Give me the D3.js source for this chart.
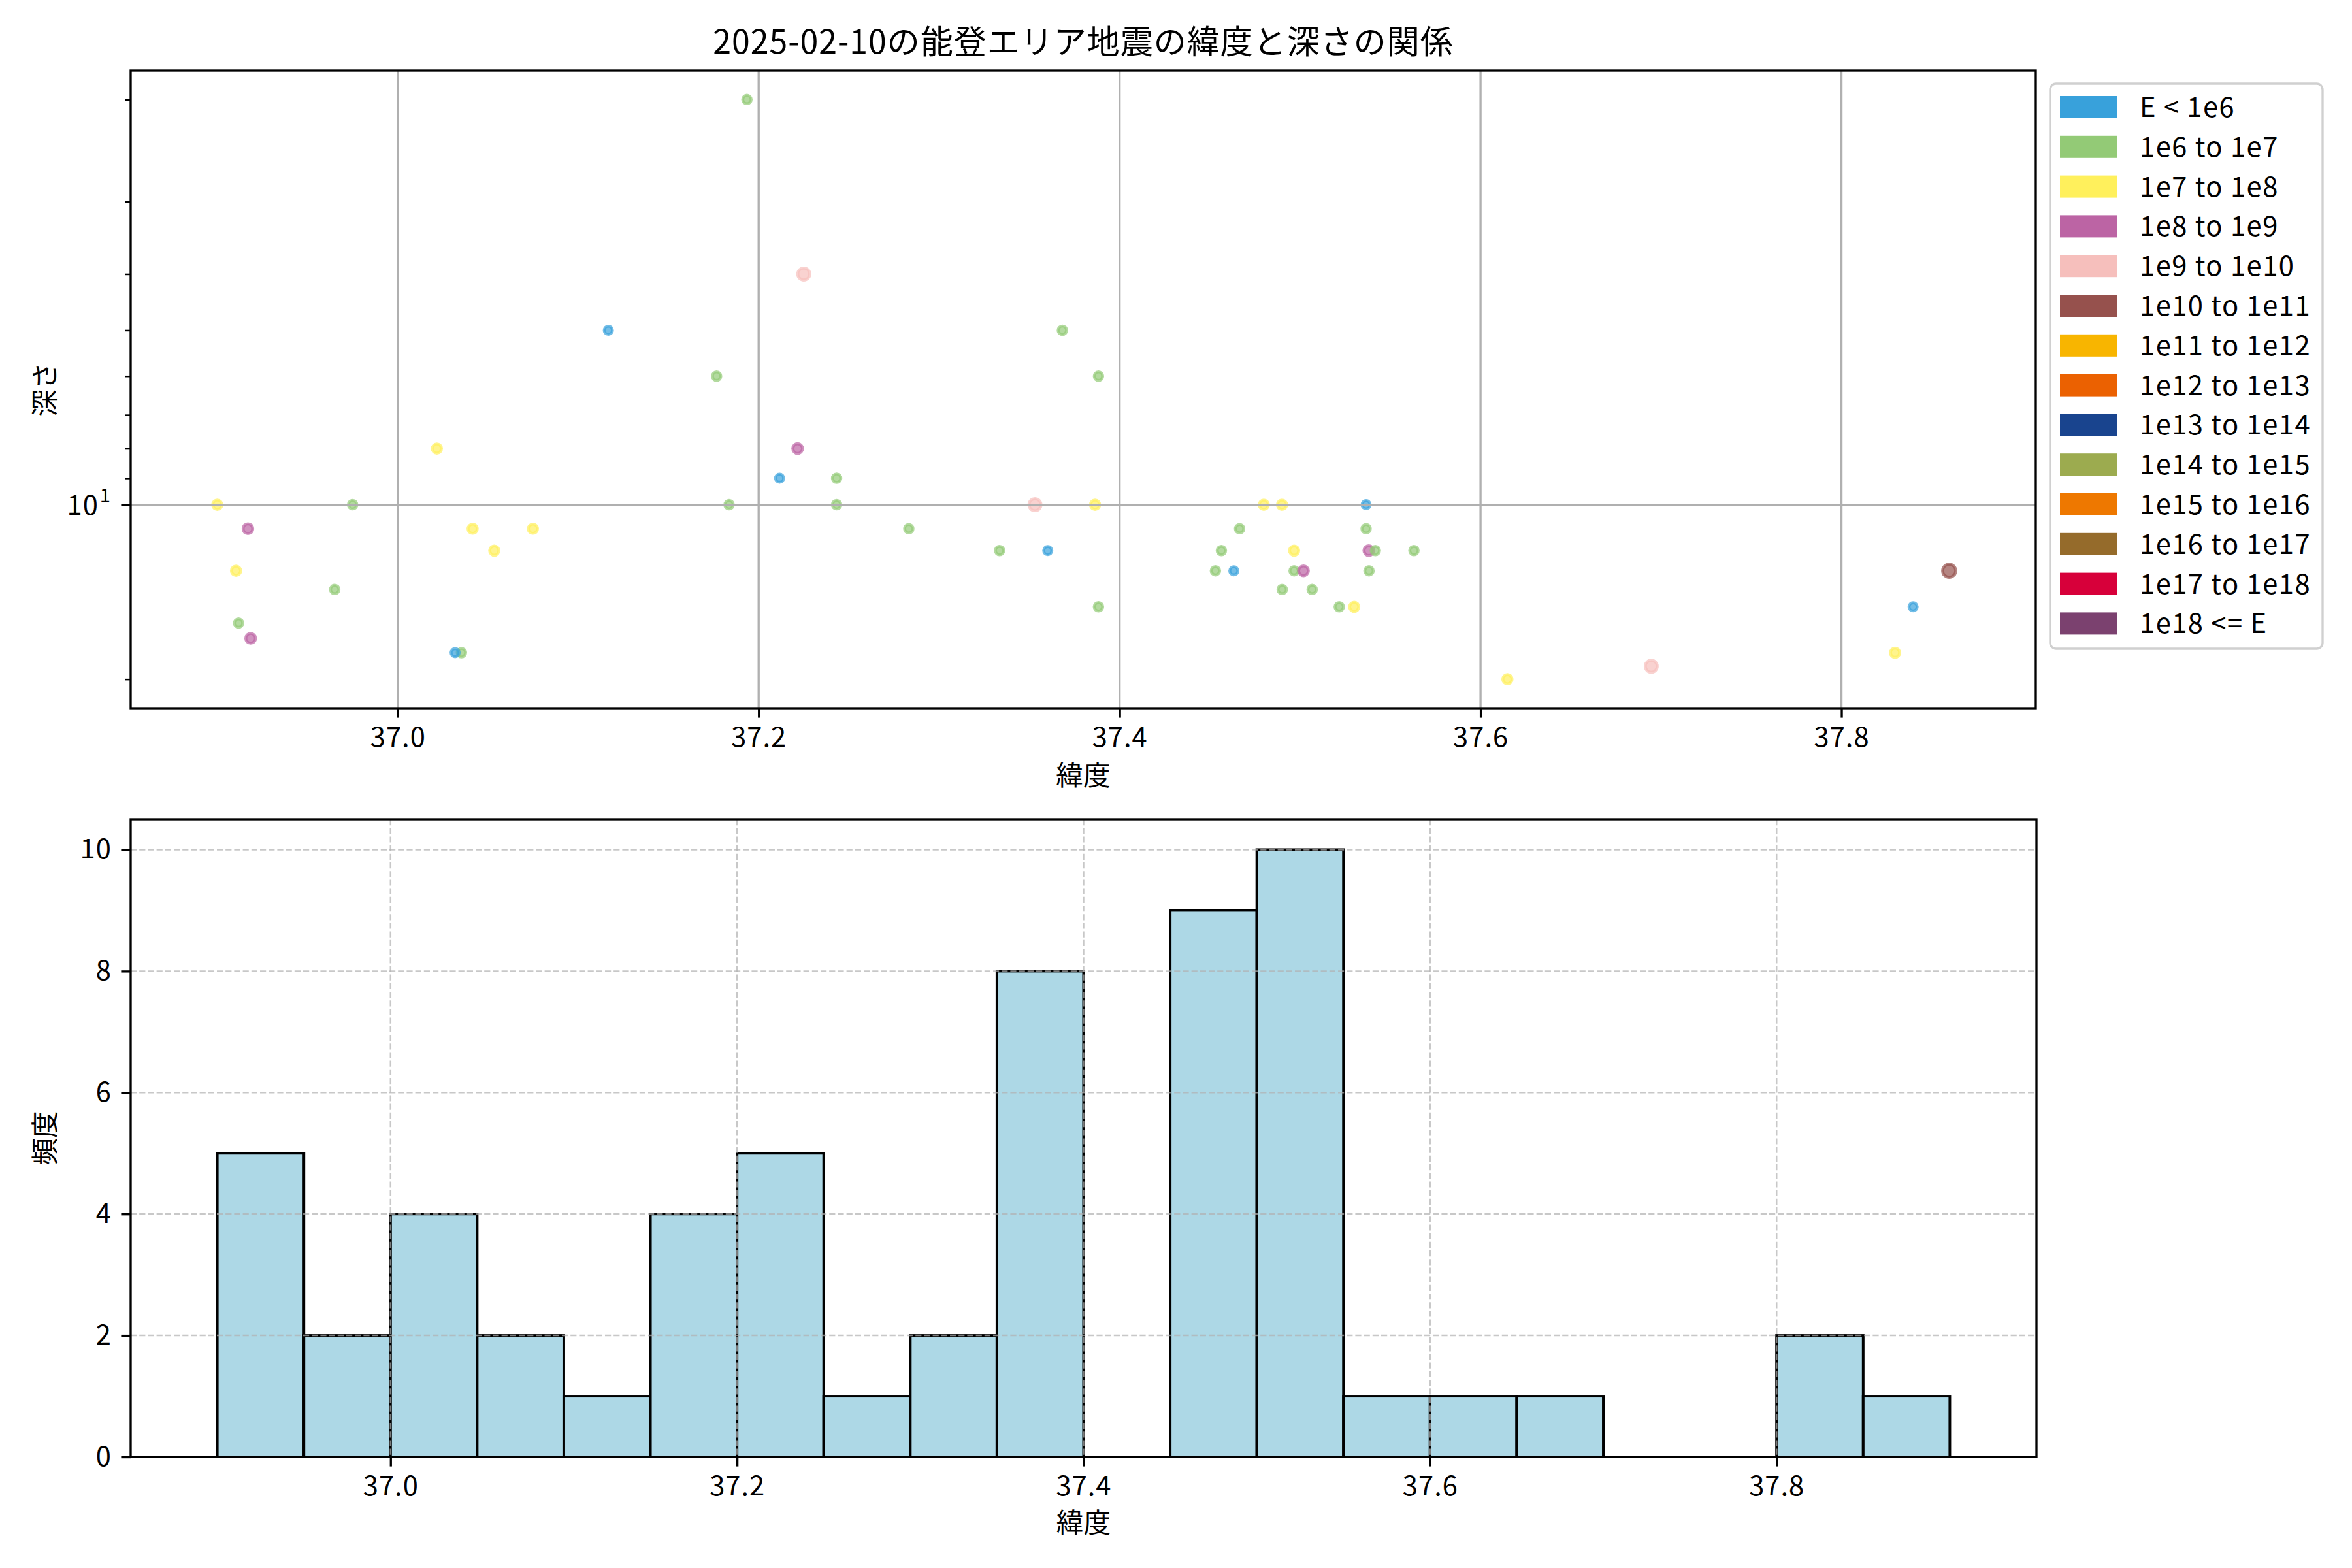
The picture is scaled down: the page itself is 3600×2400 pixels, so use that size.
<!DOCTYPE html>
<html><head><meta charset="utf-8">
<script src="https://cdn.jsdelivr.net/npm/d3@7"></script>
<style>
body{margin:0;background:#fff}
svg{display:block}
text{font-family:"Noto Sans CJK JP","Noto Sans",sans-serif;fill:#000}
</style>
</head><body>
<svg id="c" width="3600" height="2400"></svg>
<script>
// ---------- data ----------
const titleText = "2025-02-10の能登エリア地震の緯度と深さの関係";
const latitudes = [37.1935,37.1167,37.1767,37.0217,36.9000,36.9750,37.1836,36.9170,37.0415,37.0749,
  37.0535,36.9104,36.9651,36.9118,36.9185,37.0353,37.0318,37.2250,37.3683,37.3883,
  37.2216,37.2116,37.2432,37.2432,37.2832,37.3531,37.3864,37.3335,37.3602,37.3883,
  37.4799,37.4900,37.4665,37.4564,37.4531,37.4633,37.4967,37.4967,37.5019,37.4901,
  37.5067,37.5217,37.5300,37.5366,37.5366,37.5381,37.5417,37.5382,37.5631,37.6149,
  37.6946,37.8297,37.8397,37.8597];
const depths = [2,5,6,8,10,10,10,11,11,11,
  12,13,14,16,17,18,18,4,5,6,
  8,9,9,10,11,10,10,12,12,15,
  10,10,11,12,13,13,12,13,13,14,
  14,15,15,10,11,12,12,13,12,20,
  19,18,15,13];
const energyClass = [1,0,1,2,2,1,1,3,2,2,
  2,2,1,1,3,1,0,4,1,1,
  3,0,1,1,1,4,2,1,0,1,
  2,2,1,1,1,0,2,1,3,1,
  1,1,2,0,1,3,1,1,1,2,
  4,2,0,5];
const classLabels = ["E < 1e6","1e6 to 1e7","1e7 to 1e8","1e8 to 1e9","1e9 to 1e10","1e10 to 1e11",
  "1e11 to 1e12","1e12 to 1e13","1e13 to 1e14","1e14 to 1e15","1e15 to 1e16","1e16 to 1e17",
  "1e17 to 1e18","1e18 <= E"];
const classColors = ["#38A1DB","#93CA76","#FFF05C","#BC64A4","#F6BFBC","#96514D",
  "#F8B500","#EB6101","#19448E","#9CAB4F","#EE7800","#956B2B","#D7003A","#7B416F"];
const scatterXTicks = [37.0,37.2,37.4,37.6,37.8];
const depthMajorTicks = [10];
const depthMinorTicks = [2,3,4,5,6,7,8,9,20];

const histBinEdges = [36.90,36.95,37.00,37.05,37.10,37.15,37.20,37.25,37.30,37.35,37.40,
  37.45,37.50,37.55,37.60,37.65,37.70,37.75,37.80,37.85,37.90];
const histCounts = [5,2,4,2,1,4,5,1,2,8,0,9,10,1,1,1,0,0,2,1];
const histXTicks = [37.0,37.2,37.4,37.6,37.8];
const histYTicks = [0,2,4,6,8,10];

// ---------- styles ----------
const markerDiam = [17,17.5,18.7,19.5,23,24.7];
const FS = 41.7, LW = 3.33, TICK = 14.6, MTICK = 8.3;

const svg = d3.select("#c");

function styleAxis(g){
  g.attr("font-family",null).attr("font-size",null);
  g.select(".domain").remove();
  g.selectAll(".tick line").attr("stroke","#000").attr("stroke-width",LW);
  g.selectAll(".tick text").attr("font-size",FS).attr("fill","#000").attr("letter-spacing",1);
}

// ================= TOP: scatter =================
const T = {l:200,r:3116,t:108,b:1084};
const latExt = d3.extent(latitudes), latPad = (latExt[1]-latExt[0])*0.05;
const x1 = d3.scaleLinear().domain([latExt[0]-latPad, latExt[1]+latPad]).range([T.l,T.r]);
const dExt = d3.extent(depths).map(Math.log10), dPad = (dExt[1]-dExt[0])*0.05;
const y1 = d3.scaleLog().domain([10**(dExt[0]-dPad), 10**(dExt[1]+dPad)]).range([T.t,T.b]);

const pts = latitudes.map((la,i)=>({la, d:depths[i], c:energyClass[i]}));
svg.append("g").selectAll("circle").data(pts).join("circle")
  .attr("cx",p=>x1(p.la)).attr("cy",p=>y1(p.d))
  .attr("r",p=>markerDiam[p.c]/2-2.3)
  .attr("fill",p=>classColors[p.c]).attr("fill-opacity",0.7)
  .attr("stroke",p=>classColors[p.c]).attr("stroke-opacity",0.7).attr("stroke-width",4.6);

// grid (solid)
const g1 = svg.append("g");
g1.selectAll("line.v").data(scatterXTicks).join("line")
  .attr("x1",d=>x1(d)).attr("x2",d=>x1(d)).attr("y1",T.t).attr("y2",T.b)
  .attr("stroke","#b0b0b0").attr("stroke-width",LW);
g1.selectAll("line.h").data(depthMajorTicks).join("line")
  .attr("y1",d=>y1(d)).attr("y2",d=>y1(d)).attr("x1",T.l).attr("x2",T.r)
  .attr("stroke","#b0b0b0").attr("stroke-width",LW);

// axes
svg.append("g").attr("transform",`translate(0,${T.b})`)
  .call(d3.axisBottom(x1).tickValues(scatterXTicks).tickSize(TICK).tickPadding(TICK).tickFormat(d3.format(".1f")))
  .call(styleAxis);
const ymin = svg.append("g").attr("transform",`translate(${T.l},0)`)
  .call(d3.axisLeft(y1).tickValues(depthMinorTicks).tickSize(MTICK).tickFormat(""))
  .call(styleAxis);
ymin.selectAll(".tick line").attr("stroke-width",2.5);
const ymaj = svg.append("g").attr("transform",`translate(${T.l},0)`)
  .call(d3.axisLeft(y1).tickValues(depthMajorTicks).tickSize(TICK).tickPadding(TICK).tickFormat(""))
  .call(styleAxis);
ymaj.selectAll(".tick").append("text")
  .attr("x",-TICK*2-20).attr("dy","0.35em").attr("text-anchor","end").attr("font-size",FS).attr("letter-spacing",1)
  .text(d=>Math.round(Math.log10(d)===1?10:d));
ymaj.selectAll(".tick").append("text")
  .attr("x",-TICK*2-18).attr("dy","-0.15em").attr("text-anchor","start").attr("font-size",FS*0.7)
  .text(d=>Math.round(Math.log10(d)));

svg.append("rect").attr("x",T.l).attr("y",T.t).attr("width",T.r-T.l).attr("height",T.b-T.t)
  .attr("fill","none").attr("stroke","#000").attr("stroke-width",LW);

svg.append("text").attr("x",(T.l+T.r)/2).attr("y",82).attr("text-anchor","middle")
  .attr("font-size",50).attr("letter-spacing",1).text(titleText);
svg.append("text").attr("x",(T.l+T.r)/2).attr("y",1202).attr("text-anchor","middle")
  .attr("font-size",FS).text("緯度");
svg.append("text").attr("transform",`translate(84,${(T.t+T.b)/2}) rotate(-90)`).attr("text-anchor","middle")
  .attr("font-size",FS).text("深さ");

// legend
const L = {x:3138,y:128,w:417,h:865};
svg.append("rect").attr("x",L.x).attr("y",L.y).attr("width",L.w).attr("height",L.h).attr("rx",9)
  .attr("fill","#fff").attr("fill-opacity",0.8).attr("stroke","#d0d0d0").attr("stroke-width",LW);
const lg = svg.append("g").selectAll("g").data(classLabels).join("g")
  .attr("transform",(d,i)=>`translate(0,${164+i*60.8})`);
lg.append("rect").attr("x",3153).attr("y",-17).attr("width",87).attr("height",34)
  .attr("fill",(d,i)=>classColors[i]);
lg.append("text").attr("x",3275).attr("dy","0.36em").attr("font-size",FS).attr("letter-spacing",1.5).text(d=>d);

// ================= BOTTOM: histogram =================
const H = {l:200,r:3117,t:1254,b:2230};
const span = histBinEdges[histBinEdges.length-1]-histBinEdges[0];
const x2 = d3.scaleLinear().domain([histBinEdges[0]-0.05*span, histBinEdges[histBinEdges.length-1]+0.05*span]).range([H.l,H.r]);
const y2 = d3.scaleLinear().domain([0, d3.max(histCounts)*1.05]).range([H.b,H.t]);

svg.append("g").selectAll("rect").data(histCounts).join("rect")
  .attr("x",(d,i)=>x2(histBinEdges[i])).attr("width",(d,i)=>x2(histBinEdges[i+1])-x2(histBinEdges[i]))
  .attr("y",d=>y2(d)).attr("height",d=>y2(0)-y2(d))
  .attr("fill","#ADD8E6").attr("stroke","#000").attr("stroke-width",4);

const g2 = svg.append("g").attr("stroke","#b0b0b0").attr("stroke-opacity",0.7)
  .attr("stroke-width",2.5).attr("stroke-dasharray","9.2,4");
g2.selectAll("line.v").data(histXTicks).join("line")
  .attr("x1",d=>x2(d)).attr("x2",d=>x2(d)).attr("y1",H.t).attr("y2",H.b);
g2.selectAll("line.h").data(histYTicks).join("line")
  .attr("y1",d=>y2(d)).attr("y2",d=>y2(d)).attr("x1",H.l).attr("x2",H.r);

svg.append("g").attr("transform",`translate(0,${H.b})`)
  .call(d3.axisBottom(x2).tickValues(histXTicks).tickSize(TICK).tickPadding(TICK).tickFormat(d3.format(".1f")))
  .call(styleAxis);
svg.append("g").attr("transform",`translate(${H.l},0)`)
  .call(d3.axisLeft(y2).tickValues(histYTicks).tickSize(TICK).tickPadding(TICK).tickFormat(d3.format("d")))
  .call(styleAxis);

svg.append("rect").attr("x",H.l).attr("y",H.t).attr("width",H.r-H.l).attr("height",H.b-H.t)
  .attr("fill","none").attr("stroke","#000").attr("stroke-width",LW);

svg.append("text").attr("x",(H.l+H.r)/2).attr("y",2346).attr("text-anchor","middle")
  .attr("font-size",FS).text("緯度");
svg.append("text").attr("transform",`translate(84,${(H.t+H.b)/2}) rotate(-90)`).attr("text-anchor","middle")
  .attr("font-size",FS).text("頻度");
</script>
</body></html>
